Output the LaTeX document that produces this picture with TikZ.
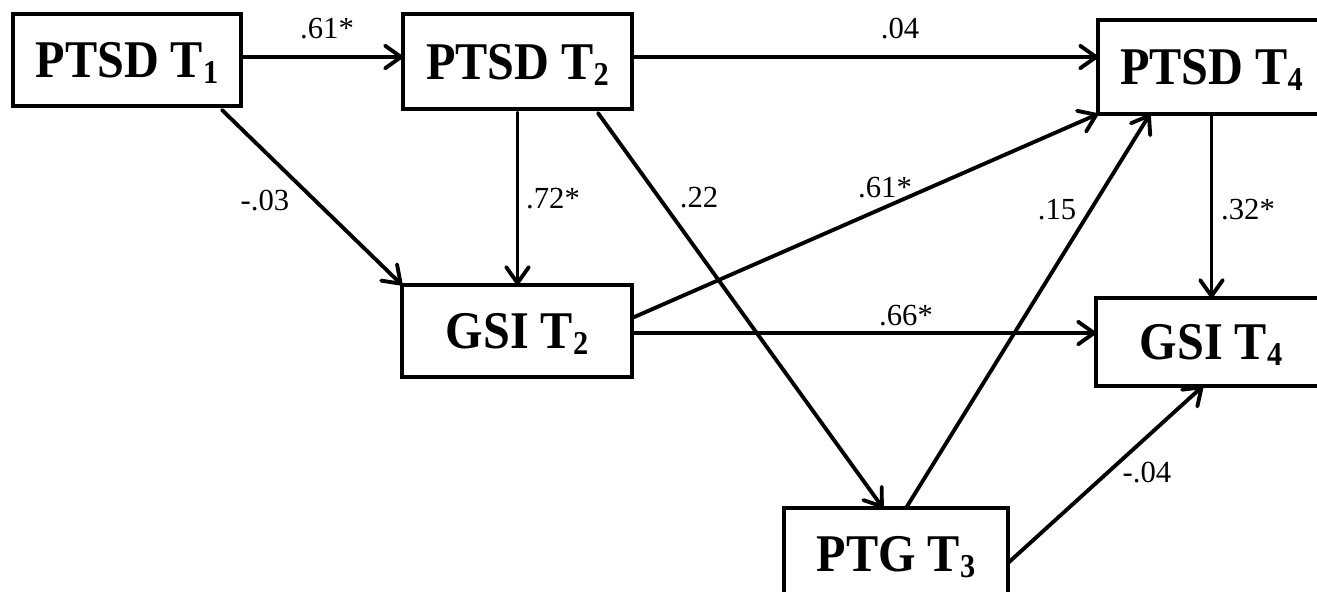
\documentclass[tikz,border=0pt]{standalone}
\usepackage{fontspec}
\setmainfont{Liberation Serif}
\newfontfamily\condfont[FakeStretch=0.91]{Liberation Serif}
\usetikzlibrary{arrows.meta,calc}
\newcommand\subidx[1]{\raisebox{-4.5pt}{\fontsize{25pt}{26pt}\selectfont #1}}
\tikzset{
  box/.style={draw, line width=2.9pt, rectangle, inner sep=0pt, outer sep=0pt,
    text depth=0pt, font=\condfont\bfseries\fontsize{39.75pt}{40pt}\selectfont},
  arr/.style={line width=2.9pt, line cap=round, line join=round,
    -{Straight Barb[length=12pt,width=17pt,line cap=round,line join=round]}},
  lbl/.style={anchor=base, inner sep=0pt, font=\fontsize{23pt}{24pt}\selectfont}
}
\begin{document}
\begin{tikzpicture}[x=0.75pt,y=-0.75pt]
\useasboundingbox (0,0) rectangle (1317,592);
% boxes
\node[box, minimum width=171pt, minimum height=69pt] (T1) at (127,60) {PTSD T\subidx{1}};
\node[box, minimum width=171.75pt, minimum height=71.25pt] (T2) at (517.5,61.5) {PTSD T\subidx{2}};
\node[box, minimum width=170.25pt, minimum height=70.5pt] (T4) at (1211.5,67) {PTSD T\subidx{4}};
\node[box, minimum width=172.5pt, minimum height=69pt] (G2) at (517,331) {GSI T\subidx{2}};
\node[box, minimum width=172.5pt, minimum height=66pt] (G4) at (1211,342) {GSI T\subidx{4}};
\node[box, minimum width=168pt, minimum height=69pt] (P3) at (896,554) {PTG T\subidx{3}};
% helper coordinates on the boxes
\coordinate (a1) at ([yshift=2.25pt]T1.east);
\coordinate (a2) at ([yshift=3.375pt]T2.east);
\coordinate (a7) at ([yshift=-1.5pt]G2.east);
% connectors
\draw[arr] (a1) -- (a1 -| T2.west);
\draw[arr] (a2) -- (a2 -| T4.west);
\draw[arr] ([xshift=-14.25pt,yshift=-3pt]T1.south east) -- (G2.north west);
\draw[arr, shorten <=3pt] (T2.south) -- (T2.south |- G2.north);
\draw[arr] ([xshift=-25.5pt,yshift=-3pt]T2.south east) -- ([xshift=-9.75pt]P3.north);
\draw[arr] ([yshift=9.75pt]G2.east) -- (T4.south west);
\draw[arr] (a7) -- (a7 -| G4.west);
\draw[arr] ([xshift=7.5pt]P3.north) -- ([xshift=39pt]T4.south west);
\draw[arr] (T4.south) -- (T4.south |- G4.north);
\draw[arr] ([yshift=-6.75pt]P3.east) -- ([xshift=-6pt]G4.south);
% labels
\node[lbl] (l1) at (327,39) {.61*};
\node[lbl] (l2) at (900,39) {.04};
\node[lbl] (l3) at (265,210) {-.03};
\node[lbl] (l4) at (553,208) {.72*};
\node[lbl] (l5) at (699,207) {.22};
\node[lbl] (l6) at (885,197) {.61*};
\node[lbl] (l7) at (1057,219) {.15};
\node[lbl] (l8) at (1248,219) {.32*};
\node[lbl] (l9) at (906,325) {.66*};
\node[lbl] (l10) at (1147,482) {-.04};
\end{tikzpicture}
\end{document}
